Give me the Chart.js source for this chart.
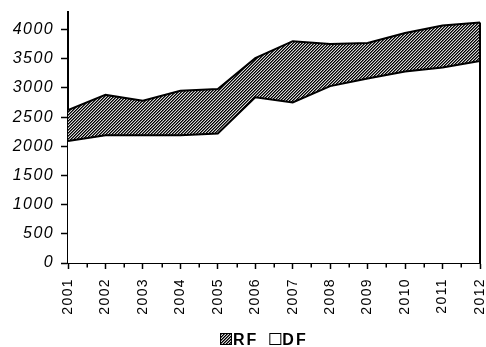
<!DOCTYPE html>
<html>
<head>
<meta charset="utf-8">
<script src="https://cdn.jsdelivr.net/npm/chart.js@4/dist/chart.umd.min.js"></script>
<style>
  html, body { margin: 0; padding: 0; background: #fff; }
  #wrap { width: 486px; height: 347px; }
</style>
</head>
<body>
<div id="wrap"><canvas id="c" width="486" height="347"></canvas></div>
<script>
// Years on the category axis
const years = ['2001', '2002', '2003', '2004', '2005', '2006', '2007', '2008', '2009', '2010', '2011', '2012'];
// Stacked series (DF at the bottom, RF on top of it)
const dfValues = [2090, 2190, 2190, 2190, 2220, 2840, 2750, 3030, 3160, 3280, 3350, 3460];
const rfValues = [530, 690, 590, 760, 760, 670, 1050, 720, 610, 660, 720, 660];
// Value axis
const yMax = 4300;
const yTickValues = [0, 500, 1000, 1500, 2000, 2500, 3000, 3500, 4000];

// Diagonal hatch used for the RF band
function makeHatch() {
  const t = document.createElement('canvas');
  t.width = 3; t.height = 3;
  const g = t.getContext('2d');
  const img = g.createImageData(3, 3);
  const shades = [90, 215, 0];
  for (let y = 0; y < 3; y++) {
    for (let x = 0; x < 3; x++) {
      const v = shades[(x + y) % 3];
      const i = (y * 3 + x) * 4;
      img.data[i] = v; img.data[i + 1] = v; img.data[i + 2] = v; img.data[i + 3] = 255;
    }
  }
  g.putImageData(img, 0, 0);
  return document.getElementById('c').getContext('2d').createPattern(t, 'repeat');
}
const hatch = makeHatch();

const toPoints = arr => arr.map((v, i) => ({ x: i, y: v }));

const textSpacing = {
  id: 'textSpacing',
  beforeDraw(chart) { chart.ctx.letterSpacing = '1.4px'; }
};

// Short marks halfway between the years
const minorTicks = {
  id: 'minorTicks',
  afterDraw(chart) {
    const xs = chart.scales.x;
    const ctx = chart.ctx;
    ctx.save();
    ctx.strokeStyle = '#000';
    ctx.lineWidth = 1.5;
    for (let i = 0; i < years.length - 1; i++) {
      const px = Math.round(xs.getPixelForValue(i + 0.5)) + 0.25;
      ctx.beginPath();
      ctx.moveTo(px, xs.top);
      ctx.lineTo(px, xs.top + 4.5);
      ctx.stroke();
    }
    ctx.restore();
  }
};

// Closing edge of the stacked area at the last year
const areaEdge = {
  id: 'areaEdge',
  afterDatasetsDraw(chart) {
    const xs = chart.scales.x, ys = chart.scales.y;
    const n = years.length - 1;
    const ctx = chart.ctx;
    ctx.save();
    ctx.strokeStyle = '#000';
    ctx.lineWidth = 2;
    const px = xs.getPixelForValue(n);
    ctx.beginPath();
    ctx.moveTo(px, ys.getPixelForValue(dfValues[n] + rfValues[n]));
    ctx.lineTo(px, ys.getPixelForValue(0));
    ctx.stroke();
    ctx.restore();
  }
};

// Legend: RF then DF, box right next to its label
const legendRow = {
  id: 'legendRow',
  afterDraw(chart) {
    const ctx = chart.ctx;
    const items = chart.data.datasets.slice().reverse();
    ctx.save();
    ctx.font = 'bold 16px Arial, "Liberation Sans", sans-serif';
    ctx.letterSpacing = '2px';
    ctx.textBaseline = 'alphabetic';
    ctx.textAlign = 'left';
    let x = 220;
    const top = 333, size = 12;
    items.forEach(ds => {
      ctx.fillStyle = ds.backgroundColor;
      ctx.fillRect(x, top, size, size);
      ctx.strokeStyle = '#000';
      ctx.lineWidth = 1;
      ctx.strokeRect(x + 0.5, top + 0.5, size - 1, size - 1);
      ctx.fillStyle = '#000';
      ctx.fillText(ds.label, x + size + 1, top + 12);
      x += size + 1 + ctx.measureText(ds.label).width + 11;
    });
    ctx.restore();
  }
};

new Chart(document.getElementById('c'), {
  type: 'line',
  data: {
    datasets: [
      {
        label: 'DF',
        data: toPoints(dfValues),
        fill: 'origin',
        backgroundColor: '#ffffff',
        borderColor: '#000',
        borderWidth: 2,
        pointRadius: 0,
        tension: 0
      },
      {
        label: 'RF',
        data: toPoints(rfValues),
        fill: '-1',
        backgroundColor: hatch,
        borderColor: '#000',
        borderWidth: 2,
        pointRadius: 0,
        tension: 0
      }
    ]
  },
  options: {
    responsive: false,
    animation: false,
    events: [],
    layout: { padding: { top: 12, right: 6, left: 0, bottom: 0 } },
    plugins: { legend: { display: false }, tooltip: { enabled: false } },
    scales: {
      x: {
        type: 'linear',
        min: 0,
        max: years.length - 1,
        afterFit(s) { s.height = 84; s.paddingLeft = 0; s.paddingRight = 0; },
        grid: { drawOnChartArea: false, drawTicks: true, tickLength: 6, tickColor: '#000', tickWidth: 1.5 },
        border: { display: true, color: '#000', width: 2 },
        ticks: {
          stepSize: 1,
          autoSkip: false,
          minRotation: 90,
          maxRotation: 90,
          padding: 9,
          color: '#000',
          font: { family: 'Arial, "Liberation Sans", sans-serif', size: 14 },
          callback: v => years[v]
        }
      },
      y: {
        stacked: true,
        min: 0,
        max: yMax,
        afterFit(s) { s.width = 68; s.paddingTop = 0; s.paddingBottom = 0; },
        afterBuildTicks(s) { s.ticks = yTickValues.map(v => ({ value: v })); },
        grid: { drawOnChartArea: false, drawTicks: true, tickLength: 7, tickColor: '#000', tickWidth: 1.5 },
        border: { display: true, color: '#000', width: 2 },
        ticks: {
          autoSkip: false,
          padding: 7,
          color: '#000',
          font: { family: 'Arial, "Liberation Sans", sans-serif', size: 16, style: 'italic' },
          callback: v => String(v)
        }
      }
    }
  },
  plugins: [textSpacing, areaEdge, minorTicks, legendRow]
});
</script>
</body>
</html>
